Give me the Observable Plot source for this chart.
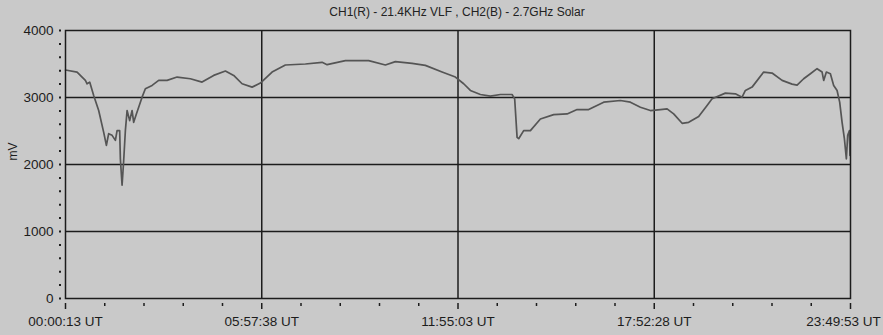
<!DOCTYPE html>
<html><head><meta charset="utf-8">
<script src="https://cdn.jsdelivr.net/npm/d3@7"></script>
<script src="https://cdn.jsdelivr.net/npm/@observablehq/plot@0.6"></script>
<style>
body{margin:0;background:#c9c9c9;width:883px;height:335px;overflow:hidden;font-family:"Liberation Sans",Arial,sans-serif}
#title{height:22px;line-height:24px;font-size:12px;color:#222;position:relative}
#title span{position:absolute;left:457px;transform:translateX(-50%);white-space:nowrap}
svg{display:block}
</style></head><body>
<div id="title"><span>CH1(R) - 21.4KHz VLF , CH2(B) - 2.7GHz Solar</span></div>
<div id="chart"></div>
<script>
const hours = [0.004,0.355,0.607,0.659,0.738,0.859,1.011,1.163,1.245,1.314,1.418,1.518,1.569,1.648,1.669,1.721,1.770,1.821,1.873,1.952,2.025,2.073,2.155,2.225,2.328,2.428,2.632,2.832,3.087,3.391,3.794,4.149,4.501,4.857,5.109,5.364,5.667,5.919,6.274,6.678,7.285,7.792,7.944,8.499,9.206,9.713,10.017,10.524,10.927,11.434,11.838,12.090,12.293,12.597,12.900,13.204,13.559,13.638,13.711,13.760,13.911,14.115,14.418,14.822,15.229,15.532,15.884,16.340,16.847,17.150,17.454,17.757,18.061,18.264,18.464,18.720,18.920,19.223,19.478,19.630,20.034,20.337,20.540,20.641,20.844,21.196,21.451,21.755,22.058,22.210,22.410,22.614,22.817,22.969,23.018,23.099,23.221,23.321,23.424,23.503,23.576,23.646,23.706,23.746,23.797,23.815];
const mV = [3410,3380,3255,3205,3230,3030,2805,2480,2285,2460,2435,2360,2505,2505,2085,1690,2060,2505,2805,2655,2805,2630,2755,2855,3005,3130,3180,3255,3255,3305,3280,3230,3330,3395,3330,3205,3155,3215,3380,3485,3500,3525,3490,3550,3550,3485,3535,3510,3480,3380,3305,3205,3105,3045,3020,3045,3045,2980,2405,2385,2505,2505,2680,2745,2755,2820,2820,2930,2955,2930,2855,2805,2820,2830,2755,2615,2630,2715,2880,2980,3065,3055,3005,3105,3155,3380,3365,3255,3200,3185,3280,3355,3430,3380,3255,3380,3355,3180,3105,2930,2630,2385,2085,2435,2505,2135];
const tickHours = [0.003611,5.960556,11.9175,17.874444,23.831389];
const tickLabels = ["00:00:13 UT","05:57:38 UT","11:55:03 UT","17:52:28 UT","23:49:53 UT"];
const yMajor = [0,1000,2000,3000,4000];
const yMinor = d3.range(0,4001,200);

const data = hours.map((h,i)=>({h, v: mV[i]}));
const xMinor = [];
for (let i=0;i<tickHours.length-1;i++){
  const step=(tickHours[i+1]-tickHours[i])/5;
  for (let j=1;j<5;j++) xMinor.push(tickHours[i]+j*step);
}
const ink="#1c1c1c";
const fmt = d=>tickLabels[tickHours.indexOf(d)];
const chart = Plot.plot({
  width:883, height:313,
  marginLeft:65, marginRight:33, marginTop:8, marginBottom:37,
  style:{background:"transparent", fontFamily:'"Liberation Sans",Arial,sans-serif', fontSize:"13.5px", color:ink},
  x:{domain:[tickHours[0],tickHours[4]]},
  y:{domain:[0,4000]},
  marks:[
    Plot.gridY(yMajor.slice(1,4),{stroke:ink,strokeOpacity:1,strokeWidth:1.5}),
    Plot.gridX(tickHours.slice(1,4),{stroke:ink,strokeOpacity:1,strokeWidth:1.5}),
    Plot.line(data,{x:"h",y:"v",stroke:"#555",strokeWidth:1.7}),
    Plot.frame({stroke:ink,strokeWidth:1.5}),
    Plot.axisY(yMajor,{tickSize:0,tickPadding:12,tickFormat:d=>String(d),label:null,fontSize:13.5}),
    Plot.axisY(yMinor,{tickSize:2,dx:-4,text:null,stroke:ink,strokeWidth:2,label:null}),
    Plot.axisX(tickHours,{tickSize:6,dy:5,text:null,stroke:ink,strokeWidth:1.5,label:null}),
    Plot.axisX(xMinor,{tickSize:3,dy:5,text:null,stroke:ink,strokeWidth:1.5,label:null}),
    Plot.axisX(tickHours.slice(0,4),{tickSize:0,tickPadding:18,tickFormat:fmt,label:null,fontSize:13.5}),
    Plot.axisX(tickHours.slice(4),{tickSize:0,tickPadding:18,tickFormat:fmt,label:null,fontSize:13.5,dx:-7}),
    Plot.text(["mV"],{frameAnchor:"left",dx:-52,dy:-4,rotate:-90,fontSize:12,fill:ink})
  ]
});
document.getElementById("chart").appendChild(chart);
</script>
</body></html>
